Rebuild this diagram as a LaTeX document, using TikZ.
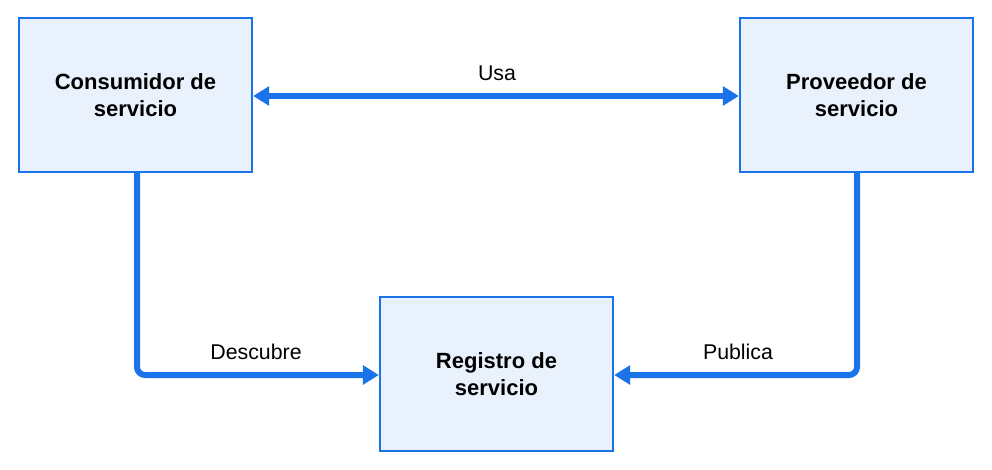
\documentclass[tikz,border=0pt]{standalone}
\usepackage{fontspec}
\setmainfont{Liberation Sans}
\usetikzlibrary{arrows.meta}
\definecolor{bfill}{HTML}{E8F1FC}
\definecolor{bline}{HTML}{1A73E8}
\begin{document}
\begin{tikzpicture}[x=0.75pt,y=-0.75pt,
 box/.style={draw=bline,fill=bfill,line width=1.5pt,minimum width=175pt,minimum height=115pt,align=center,font=\fontsize{16.5}{20}\selectfont\bfseries},
 con/.style={draw=bline,line width=4.5pt,rounded corners=6pt,-{Triangle[length=12pt,width=14pt]}},
 lab/.style={font=\fontsize{16}{19}\selectfont}]
\useasboundingbox (0,0) rectangle (992,470);
\node[box] (c) at (135.5,95) {Consumidor de\\servicio};
\node[box] (p) at (856.5,95) {Proveedor de\\servicio};
\node[box] (r) at (496.5,374) {Registro de\\servicio};
\draw[con,{Triangle[length=12pt,width=14pt]}-{Triangle[length=12pt,width=14pt]}] (c.east|-0,96) -- (p.west|-0,96);
\node[lab] (u) at (497,73) {Usa};
\coordinate (cl) at (137,172);
\coordinate (pl) at (857,172);
\draw[con] (cl) -- (137,375) -- (r.west|-0,375);
\draw[con] (pl) -- (857,375) -- (r.east|-0,375);
\node[lab] (d) at (256,352) {Descubre};
\node[lab] (pu) at (738,352) {Publica};
\end{tikzpicture}
\end{document}
